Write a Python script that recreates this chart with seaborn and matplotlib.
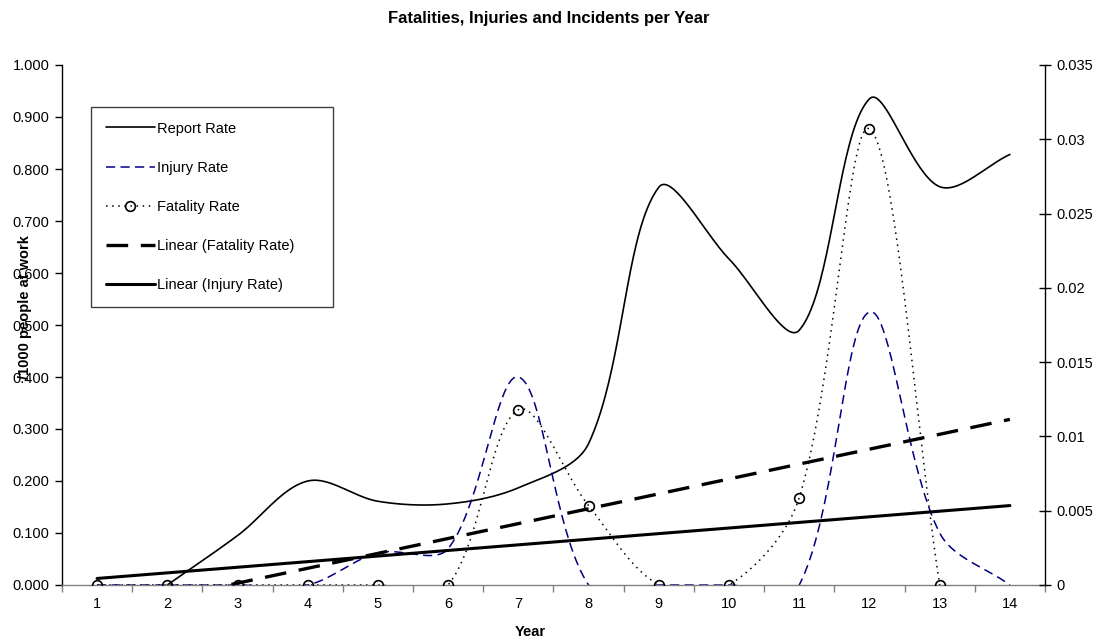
import numpy as np
import pandas as pd
import matplotlib
matplotlib.use("Agg")
import matplotlib.pyplot as plt
from matplotlib.lines import Line2D
from matplotlib.ticker import FixedLocator, FuncFormatter, NullFormatter
import seaborn as sns

# ---------------- data ----------------
years = list(range(1, 15))
report_rate = [np.nan, 0.0, 0.095, 0.200, 0.161, 0.156, 0.187, 0.272,
               0.765, 0.627, 0.490, 0.935, 0.766, 0.828]
injury_rate = [0.0, 0.0, 0.0, 0.0, 0.062, 0.070, 0.400, 0.0,
               0.0, 0.0, 0.0, 0.525, 0.100, 0.0]
fatality_rate = [0.0, 0.0, 0.0, 0.0, 0.0, 0.0, 0.0118, 0.00534,
                 0.0, 0.0, 0.00588, 0.0307, 0.0, np.nan]
left_ticks = [0.0, 0.1, 0.2, 0.3, 0.4, 0.5, 0.6, 0.7, 0.8, 0.9, 1.0]
right_ticks = [0.0, 0.005, 0.01, 0.015, 0.02, 0.025, 0.03, 0.035]

title = "Fatalities, Injuries and Incidents per Year"
xlabel = "Year"
ylabel = "/1000 people at work"

# ---------------- style ----------------
sns.set_theme(style="white")
plt.rcParams["font.family"] = ["Liberation Sans", "DejaVu Sans"]
plt.rcParams["axes.linewidth"] = 1.0
plt.rcParams["text.color"] = "black"
plt.rcParams["axes.labelcolor"] = "black"

W, H = 1097, 641
fig = plt.figure(figsize=(W / 100, H / 100), dpi=100)
L, R, T, B = 62, 1045, 65, 585
ax = fig.add_axes([L / W, 1 - B / H, (R - L) / W, (B - T) / H])
ax2 = ax.twinx()
ax.set_xlim(0.5, 14.5)
ax.set_ylim(0, 1.0)
ax2.set_ylim(0, 0.035)
ax2.patch.set_visible(False)


def excel_smooth(axis, xs, ys, n=40):
    """Excel-like smoothed line: Bezier segments with chord-weighted tangents,
    computed in display space. Returns list of (x, y) runs in data units."""
    xs = np.asarray(xs, float)
    ys = np.asarray(ys, float)
    runs = []
    valid = ~np.isnan(ys)
    i = 0
    while i < len(xs):
        if not valid[i]:
            i += 1
            continue
        j = i
        while j < len(xs) and valid[j]:
            j += 1
        runs.append((xs[i:j], ys[i:j]))
        i = j
    out = []
    tr = axis.transData
    inv = tr.inverted()
    for rx, ry in runs:
        P = tr.transform(np.column_stack([rx, ry]))
        m = len(P)
        if m < 2:
            continue
        curve = [P[0]]
        t = np.linspace(0, 1, n)[1:]
        for k in range(m - 1):
            p0, p3 = P[k], P[k + 1]
            prev = P[k - 1] if k > 0 else P[k]
            nxt = P[k + 2] if k + 2 < m else P[k + 1]
            l0 = np.linalg.norm(p0 - prev)
            l1 = np.linalg.norm(p3 - p0)
            l2 = np.linalg.norm(nxt - p3)
            f1 = l1 / (l0 + l1) if (l0 + l1) > 0 else 0
            f2 = l1 / (l1 + l2) if (l1 + l2) > 0 else 0
            c1 = p0 + (p3 - prev) * f1 / 3.0
            c2 = p3 - (nxt - p0) * f2 / 3.0
            seg = ((1 - t)[:, None] ** 3 * p0 + 3 * (1 - t)[:, None] ** 2 * t[:, None] * c1
                   + 3 * (1 - t)[:, None] * t[:, None] ** 2 * c2 + t[:, None] ** 3 * p3)
            curve.extend(seg)
        D = inv.transform(np.array(curve))
        out.append((D[:, 0], D[:, 1]))
    return out


navy = "#000080"
report_style = dict(color="black", linewidth=1.2, linestyle="-")
injury_style = dict(color=navy, linewidth=1.1, linestyle=(0, (6, 3.5)))
fatal_style = dict(color="black", linewidth=1.1, linestyle=(0, (1, 3)))
ftrend_style = dict(color="black", linewidth=2.4, linestyle=(0, (6.5, 3.8)))
itrend_style = dict(color="black", linewidth=2.2, linestyle="-")

# left axis series
for sx, sy in excel_smooth(ax, years, report_rate):
    sns.lineplot(x=sx, y=sy, ax=ax, sort=False, estimator=None, **report_style)
for sx, sy in excel_smooth(ax, years, injury_rate):
    sns.lineplot(x=sx, y=sy, ax=ax, sort=False, estimator=None, **injury_style)

# linear trend of injury rate (left axis)
inj = np.array(injury_rate, float)
ok = ~np.isnan(inj)
ci = np.polyfit(np.array(years)[ok], inj[ok], 1)
yr = np.array(years, float)
sns.lineplot(x=yr, y=np.polyval(ci, yr), ax=ax, sort=False, estimator=None, **itrend_style)

# right axis series
for sx, sy in excel_smooth(ax2, years, fatality_rate):
    sns.lineplot(x=sx, y=sy, ax=ax2, sort=False, estimator=None, **fatal_style)
fat = np.array(fatality_rate, float)
okf = ~np.isnan(fat)
ax2.plot(np.array(years)[okf], fat[okf], linestyle="none", marker="o", markersize=7,
         markerfacecolor="none", markeredgecolor="black", markeredgewidth=1.2, zorder=5)
cf = np.polyfit(np.array(years)[okf], fat[okf], 1)
sns.lineplot(x=yr, y=np.polyval(cf, yr), ax=ax2, sort=False, estimator=None, **ftrend_style)

# ---------------- axes decoration ----------------
ax.spines["top"].set_visible(False)
ax2.spines["top"].set_visible(False)
ax.spines["bottom"].set_color("#808080")
ax2.spines["bottom"].set_visible(False)
ax.spines["left"].set_color("black")
ax2.spines["right"].set_color("black")
ax.spines["right"].set_visible(False)
ax2.spines["left"].set_visible(False)

ax.xaxis.set_major_locator(FixedLocator(np.arange(0.5, 15, 1.0)))
ax.xaxis.set_major_formatter(NullFormatter())
ax.xaxis.set_minor_locator(FixedLocator(years))
ax.set_xticklabels([str(y) for y in years], minor=True)
ax.tick_params(axis="x", which="major", direction="out", length=5, width=1,
               color="#808080", bottom=True)
ax.tick_params(axis="x", which="minor", length=0, pad=9, labelsize=10.5, labelcolor="black")

ax.set_yticks(left_ticks)
ax.yaxis.set_major_formatter(FuncFormatter(lambda v, p: f"{v:.3f}"))
ax.tick_params(axis="y", direction="out", length=5, width=1, color="black",
               left=True, labelsize=10.5, labelcolor="black", pad=4)

ax2.set_yticks(right_ticks)
ax2.yaxis.set_major_formatter(FuncFormatter(lambda v, p: f"{round(v, 3):g}"))
ax2.tick_params(axis="y", direction="inout", length=9, width=1, color="black",
                right=True, labelsize=10.5, labelcolor="black", pad=4)

ax.set_xlabel(xlabel, fontsize=10.5, fontweight="bold", color="black")
ax.xaxis.set_label_coords((530 - L) / (R - L), -(632 - B) / (B - T))
ax.xaxis.label.set_va("center")
ax.set_ylabel(ylabel, fontsize=10.5, fontweight="bold", color="black")
ax.yaxis.set_label_coords((25 - L) / (R - L), (B - 307) / (B - T))
ax.yaxis.label.set_va("center")
ax2.set_ylabel("")

fig.text(549 / W, 1 - 18 / H, title, ha="center", va="center",
         fontsize=12, fontweight="bold", color="black")

# ---------------- legend ----------------
handles = [
    Line2D([], [], **report_style),
    Line2D([], [], **injury_style),
    Line2D([], [], marker="o", markersize=7, markerfacecolor="none",
           markeredgecolor="black", markeredgewidth=1.2, **fatal_style),
    Line2D([], [], **ftrend_style),
    Line2D([], [], **itrend_style),
]
labels = ["Report Rate", "Injury Rate", "Fatality Rate",
          "Linear (Fatality Rate)", "Linear (Injury Rate)"]
lx0 = (91 - L) / (R - L)
ly1 = (B - 107) / (B - T)
lw_ = (333 - 91) / (R - L)
lh_ = (300 - 107) / (B - T)
leg = ax2.legend(handles, labels, loc="upper left",
                 bbox_to_anchor=(lx0, ly1 - lh_, lw_, lh_), mode="expand",
                 borderaxespad=0, frameon=True, fancybox=False, fontsize=10.5,
                 handlelength=3.4, handletextpad=0.1, labelspacing=1.72,
                 borderpad=1.0, markerscale=1.0)
for txt in leg.get_texts():
    txt.set_color("black")
leg.get_frame().set_edgecolor("#404040")
leg.get_frame().set_linewidth(1.0)
leg.get_frame().set_facecolor("white")
leg.get_frame().set_alpha(1)
leg.set_zorder(10)

fig.savefig("out.png", dpi=100, facecolor="white")
